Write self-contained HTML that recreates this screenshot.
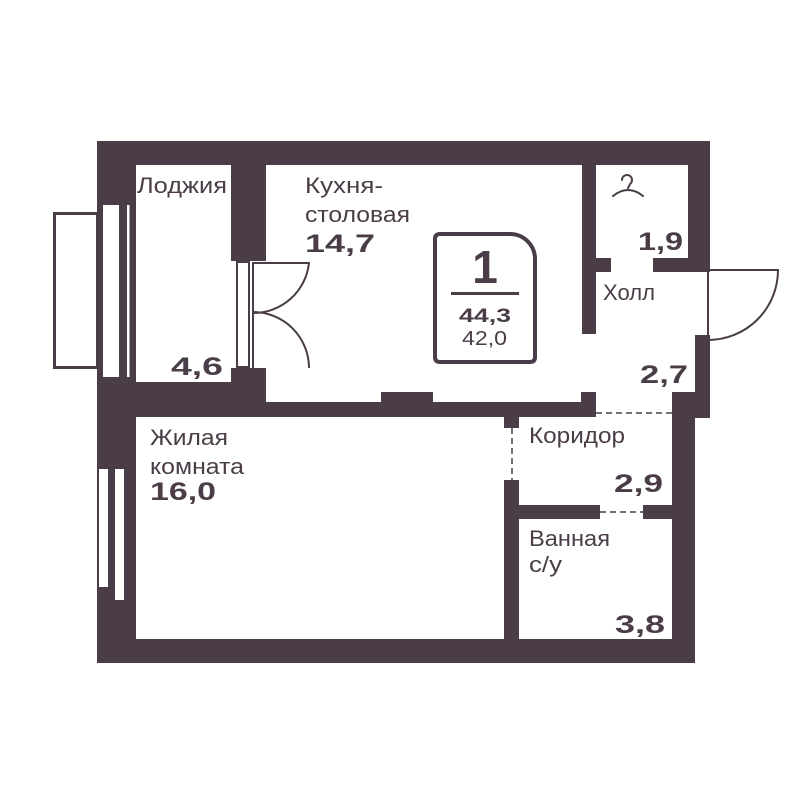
<!DOCTYPE html>
<html><head><meta charset="utf-8"><style>
html,body{margin:0;padding:0;background:#fff;width:800px;height:800px;overflow:hidden}
text{font-family:"Liberation Sans",sans-serif;fill:#4a3d47}
.r{font-size:22px}
.b{font-size:25px;font-weight:bold}
</style></head><body>
<svg width="800" height="800" viewBox="0 0 800 800">
<g fill="#4a3d47">
<rect x="97" y="141" width="613" height="24"/>
<rect x="97" y="141" width="39" height="522"/>
<rect x="97" y="382" width="38" height="281"/>
<rect x="231" y="141" width="35" height="120"/>
<rect x="231" y="368" width="35" height="49"/>
<rect x="97" y="382" width="169" height="35"/>
<rect x="231" y="402" width="365" height="15"/>
<rect x="381" y="392" width="52" height="12"/>
<rect x="581" y="392" width="15" height="25"/>
<rect x="582" y="141" width="14" height="193"/>
<rect x="582" y="258" width="29" height="14"/>
<rect x="653" y="258" width="57" height="14"/>
<rect x="688" y="141" width="22" height="131"/>
<rect x="695" y="335" width="15" height="83"/>
<rect x="672" y="392" width="38" height="26"/>
<rect x="672" y="392" width="23" height="271"/>
<rect x="97" y="639" width="598" height="24"/>
<rect x="504" y="402" width="15" height="26"/>
<rect x="504" y="480" width="15" height="183"/>
<rect x="504" y="505" width="96" height="14"/>
<rect x="643" y="505" width="40" height="14"/>
</g>
<rect x="54.5" y="213.5" width="43" height="154" fill="#fff" stroke="#4a3d47" stroke-width="3"/>
<rect x="103" y="205" width="16" height="172" fill="#fff"/>
<rect x="127" y="205" width="2.5" height="172" fill="#fff"/>
<rect x="99" y="469" width="9" height="118" fill="#fff"/>
<rect x="115" y="469" width="9" height="131" fill="#fff"/>
<rect x="231" y="261" width="35" height="107" fill="#fff"/>
<rect x="237" y="262" width="12" height="105" fill="#fff" stroke="#4a3d47" stroke-width="2"/>
<g fill="none" stroke="#4a3d47" stroke-width="2">
<path d="M253 262 V368"/>
<path d="M253 263 H309 A56 56 0 0 1 253 313"/>
<path d="M253 312 A56 56 0 0 1 309 368"/>
<path d="M708 270 V337"/>
<path d="M708 270 H778 A70 70 0 0 1 708 340"/>
<path d="M596 413 H672" stroke-dasharray="6 4" stroke-width="1.5"/>
<path d="M512 428 V480" stroke-dasharray="6 4" stroke-width="1.5"/>
<path d="M600 512 H643" stroke-dasharray="6 4" stroke-width="1.5"/>
<path d="M622 180 a5 5 0 1 1 8 4 l-2 4 M613 196 Q628 184 643 196" stroke-width="2" stroke-linecap="round"/>
<path d="M440 234 H510 A25 25 0 0 1 535 259 V357 Q535 362 530 362 H440 Q435 362 435 357 V239 Q435 234 440 234 Z" stroke-width="4"/>
</g>
<rect x="451" y="292" width="68" height="3" fill="#4a3d47"/>
<text x="485" y="283" text-anchor="middle" style="font-size:46px;font-weight:bold">1</text>
<text x="459" y="322" textLength="52" lengthAdjust="spacingAndGlyphs" style="font-size:19px;font-weight:bold">44,3</text>
<text x="462" y="345" textLength="45" lengthAdjust="spacingAndGlyphs" style="font-size:20px">42,0</text>
<text class="r" x="137" y="193" textLength="90" lengthAdjust="spacingAndGlyphs">Лоджия</text>
<text class="r" x="305" y="193" textLength="78" lengthAdjust="spacingAndGlyphs">Кухня-</text>
<text class="r" x="305" y="222" textLength="105" lengthAdjust="spacingAndGlyphs">столовая</text>
<text class="b" x="305" y="252" textLength="70" lengthAdjust="spacingAndGlyphs">14,7</text>
<text class="b" x="171" y="375" textLength="52" lengthAdjust="spacingAndGlyphs">4,6</text>
<text class="b" x="638" y="250" textLength="45" lengthAdjust="spacingAndGlyphs">1,9</text>
<text class="r" x="603" y="300" textLength="52" lengthAdjust="spacingAndGlyphs">Холл</text>
<text class="b" x="640" y="383" textLength="48" lengthAdjust="spacingAndGlyphs">2,7</text>
<text class="r" x="150" y="445" textLength="78" lengthAdjust="spacingAndGlyphs">Жилая</text>
<text class="r" x="150" y="474" textLength="94" lengthAdjust="spacingAndGlyphs">комната</text>
<text class="b" x="150" y="500" textLength="66" lengthAdjust="spacingAndGlyphs">16,0</text>
<text class="r" x="529" y="443" textLength="96" lengthAdjust="spacingAndGlyphs">Коридор</text>
<text class="b" x="614" y="492" textLength="49" lengthAdjust="spacingAndGlyphs">2,9</text>
<text class="r" x="529" y="546" textLength="81" lengthAdjust="spacingAndGlyphs">Ванная</text>
<text class="r" x="529" y="572" textLength="33" lengthAdjust="spacingAndGlyphs">с/у</text>
<text class="b" x="615" y="633" textLength="50" lengthAdjust="spacingAndGlyphs">3,8</text>
</svg>
</body></html>
